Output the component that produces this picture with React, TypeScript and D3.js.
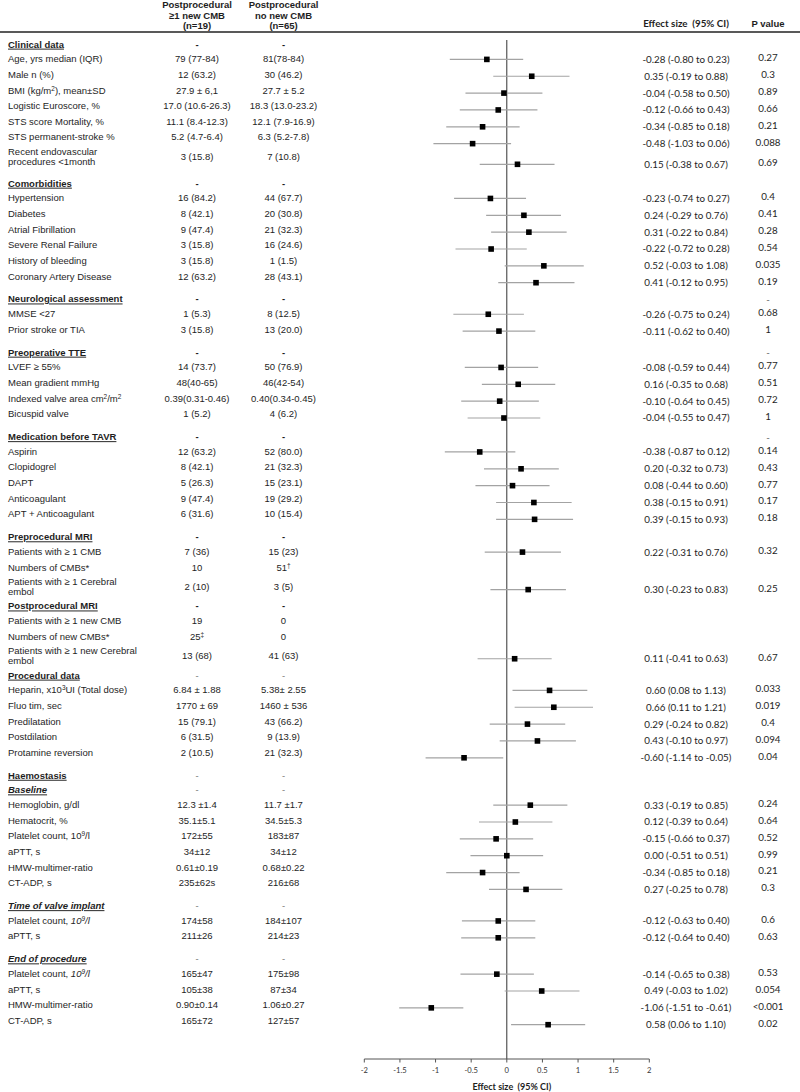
import * as d3 from 'd3';

// sections of the table, in order
const SECTIONS = [
  'Clinical data',
  'Comorbidities',
  'Neurological assessment',
  'Preoperative TTE',
  'Medication before TAVR',
  'Preprocedural MRI',
  'Postprocedural MRI',
  'Procedural data',
  'Haemostasis',
  'Baseline',
  'Time of valve implant',
  'End of procedure',
];
const SECTION_SIZES = [7, 6, 2, 4, 5, 3, 3, 5, 0, 6, 2, 4];
const SECTION_P = ['', '', '-', '-', '-', '', '', '', '', '', '', ''];

// ^x = superscript char, ~ toggles italic, \n = second line
const LABELS = [
  'Age, yrs median (IQR)',
  'Male n (%)',
  'BMI (kg/m^2), mean±SD',
  'Logistic Euroscore, %',
  'STS score Mortality, %',
  'STS permanent-stroke %',
  'Recent endovascular\nprocedures <1month',
  'Hypertension',
  'Diabetes',
  'Atrial Fibrillation',
  'Severe Renal Failure',
  'History of bleeding',
  'Coronary Artery Disease',
  'MMSE <27',
  'Prior stroke or TIA',
  'LVEF ≥ 55%',
  'Mean gradient mmHg',
  'Indexed valve area cm^2/m^2',
  'Bicuspid valve',
  'Aspirin',
  'Clopidogrel',
  'DAPT',
  'Anticoagulant',
  'APT + Anticoagulant',
  'Patients with ≥ 1 CMB',
  'Numbers of CMBs*',
  'Patients with ≥ 1 Cerebral\nembol',
  'Patients with ≥ 1 new CMB',
  'Numbers of new CMBs*',
  'Patients with ≥ 1 new Cerebral\nembol',
  'Heparin, x10^3UI (Total dose)',
  'Fluo tim, sec',
  'Predilatation',
  'Postdilation',
  'Protamine reversion',
  'Hemoglobin, g/dl',
  'Hematocrit, %',
  'Platelet count, 10^9/l',
  'aPTT, s',
  'HMW-multimer-ratio',
  'CT-ADP, s',
  'Platelet count, ~10^9/l~',
  'aPTT, s',
  'Platelet count, ~10^9/l~',
  'aPTT, s',
  'HMW-multimer-ratio',
  'CT-ADP, s',
];

const CMB = [
  '79 (77-84)', '12 (63.2)', '27.9 ± 6,1', '17.0 (10.6-26.3)', '11.1 (8.4-12.3)', '5.2 (4.7-6.4)', '3 (15.8)',
  '16 (84.2)', '8 (42.1)', '9 (47.4)', '3 (15.8)', '3 (15.8)', '12 (63.2)',
  '1 (5.3)', '3 (15.8)',
  '14 (73.7)', '48(40-65)', '0.39(0.31-0.46)', '1 (5.2)',
  '12 (63.2)', '8 (42.1)', '5 (26.3)', '9 (47.4)', '6 (31.6)',
  '7 (36)', '10', '2 (10)',
  '19', '25^‡', '13 (68)',
  '6.84 ± 1.88', '1770 ± 69', '15 (79.1)', '6 (31.5)', '2 (10.5)',
  '12.3 ±1.4', '35.1±5.1', '172±55', '34±12', '0.61±0.19', '235±62s',
  '174±58', '211±26',
  '165±47', '105±38', '0.90±0.14', '165±72',
];

const NO_CMB = [
  '81(78-84)', '30 (46.2)', '27.7 ± 5.2', '18.3 (13.0-23.2)', '12.1 (7.9-16.9)', '6.3 (5.2-7.8)', '7 (10.8)',
  '44 (67.7)', '20 (30.8)', '21 (32.3)', '16 (24.6)', '1 (1.5)', '28 (43.1)',
  '8 (12.5)', '13 (20.0)',
  '50 (76.9)', '46(42-54)', '0.40(0.34-0.45)', '4 (6.2)',
  '52 (80.0)', '21 (32.3)', '15 (23.1)', '19 (29.2)', '10 (15.4)',
  '15 (23)', '51^†', '3 (5)',
  '0', '0', '41 (63)',
  '5.38± 2.55', '1460 ± 536', '43 (66.2)', '9 (13.9)', '21 (32.3)',
  '11.7 ±1.7', '34.5±5.3', '183±87', '34±12', '0.68±0.22', '216±68',
  '184±107', '214±23',
  '175±98', '87±34', '1.06±0.27', '127±57',
];

const EST: (number | null)[] = [
  -0.28, 0.35, -0.04, -0.12, -0.34, -0.48, 0.15,
  -0.23, 0.24, 0.31, -0.22, 0.52, 0.41,
  -0.26, -0.11,
  -0.08, 0.16, -0.10, -0.04,
  -0.38, 0.20, 0.08, 0.38, 0.39,
  0.22, null, 0.30,
  null, null, 0.11,
  0.60, 0.66, 0.29, 0.43, -0.60,
  0.33, 0.12, -0.15, 0.00, -0.34, 0.27,
  -0.12, -0.12,
  -0.14, 0.49, -1.06, 0.58,
];
const CI_LO: (number | null)[] = [
  -0.80, -0.19, -0.58, -0.66, -0.85, -1.03, -0.38,
  -0.74, -0.29, -0.22, -0.72, -0.03, -0.12,
  -0.75, -0.62,
  -0.59, -0.35, -0.64, -0.55,
  -0.87, -0.32, -0.44, -0.15, -0.15,
  -0.31, null, -0.23,
  null, null, -0.41,
  0.08, 0.11, -0.24, -0.10, -1.14,
  -0.19, -0.39, -0.66, -0.51, -0.85, -0.25,
  -0.63, -0.64,
  -0.65, -0.03, -1.51, 0.06,
];
const CI_HI: (number | null)[] = [
  0.23, 0.88, 0.50, 0.43, 0.18, 0.06, 0.67,
  0.27, 0.76, 0.84, 0.28, 1.08, 0.95,
  0.24, 0.40,
  0.44, 0.68, 0.45, 0.47,
  0.12, 0.73, 0.60, 0.91, 0.93,
  0.76, null, 0.83,
  null, null, 0.63,
  1.13, 1.21, 0.82, 0.97, -0.05,
  0.85, 0.64, 0.37, 0.51, 0.18, 0.78,
  0.40, 0.40,
  0.38, 1.02, -0.61, 1.10,
];
const P_VALUES = [
  '0.27', '0.3', '0.89', '0.66', '0.21', '0.088', '0.69',
  '0.4', '0.41', '0.28', '0.54', '0.035', '0.19',
  '0.68', '1',
  '0.77', '0.51', '0.72', '1',
  '0.14', '0.43', '0.77', '0.17', '0.18',
  '0.32', '', '0.25',
  '', '', '0.67',
  '0.033', '0.019', '0.4', '0.094', '0.04',
  '0.24', '0.64', '0.52', '0.99', '0.21', '0.3',
  '0.6', '0.63',
  '0.53', '0.054', '<0.001', '0.02',
];

const AXIS_TICKS = [-2, -1.5, -1, -0.5, 0, 0.5, 1, 1.5, 2];

// layout
const W = 800;
const H = 1092;
const SUB_SECTION = [false, false, false, false, false, false, false, false, false, true, true, true];
const GAP_BEFORE = [false, true, true, true, true, true, false, false, true, false, true, true];
const BOLD_DASH = [true, true, true, true, true, true, true, false, false, false, false, false];
const STEP = 15.65;
const HEAD_STEP = 14.6;
const TWO = 3.8;
const GAP = 7.3;
const COL1 = 197;
const COL2 = 283.5;
const EFF_X = 686;
const P_X = 768;
const AXIS_Y = 1059;
const TOP_LINE = 40;

const SANS = "'Liberation Sans', Arial, sans-serif";
const CAL = "Lato, 'Open Sans', sans-serif";
const INK = '#1e1e1e';
const FS = 9.5;

type Head = { kind: 'head'; s: number; y: number };
type Row = { kind: 'row'; s: number; i: number; k: number; y: number };

function buildLayout() {
  const items: (Head | Row)[] = [];
  let y = 44.3;
  let prevHead = false;
  let prevTwo = false;
  let first = true;
  let i = 0;
  SECTIONS.forEach((_, s) => {
    if (!first) {
      y += (prevHead ? HEAD_STEP : STEP) + (prevTwo ? TWO : 0) + (GAP_BEFORE[s] ? GAP : 0);
    }
    first = false;
    items.push({ kind: 'head', s, y });
    prevHead = true;
    prevTwo = false;
    for (let k = 0; k < SECTION_SIZES[s]; k++) {
      const two = LABELS[i].includes('\n');
      y += (prevHead ? HEAD_STEP : STEP) + (prevTwo ? TWO : 0) + (two ? TWO : 0);
      items.push({ kind: 'row', s, i, k, y });
      prevHead = false;
      prevTwo = two;
      i++;
    }
  });
  return items;
}

function rich(str: string) {
  const out: JSX.Element[] = [];
  let italic = false;
  let buf = '';
  let key = 0;
  const flush = () => {
    if (buf) out.push(<tspan key={key++} fontStyle={italic ? 'italic' : undefined}>{buf}</tspan>);
    buf = '';
  };
  for (let c = 0; c < str.length; c++) {
    const ch = str[c];
    if (ch === '~') {
      flush();
      italic = !italic;
    } else if (ch === '^' && c + 1 < str.length) {
      flush();
      out.push(
        <tspan key={key++} baselineShift="super" fontSize="68%" fontStyle={italic ? 'italic' : undefined}>
          {str[c + 1]}
        </tspan>
      );
      c++;
    } else {
      buf += ch;
    }
  }
  flush();
  return out;
}

const fmt = (v: number) => v.toFixed(2);

function ForestTable() {
  const x = d3.scaleLinear([-2, 2], [364.3, 649.3]);
  const items = buildLayout();

  return (
    <svg width={W} height={H} style={{ position: 'absolute', left: 0, top: 0, background: '#fff' }}>
      {/* column headers */}
      <g fontFamily={SANS} fontSize={FS} fontWeight="bold" fill={INK} textAnchor="middle">
        {['Postprocedural', '≥1 new CMB', '(n=19)'].map((t, j) => (
          <text key={'a' + j} x={COL1} y={5 + j * 10.5} dy="0.35em">{t}</text>
        ))}
        {['Postprocedural', 'no new CMB', '(n=65)'].map((t, j) => (
          <text key={'b' + j} x={COL2} y={5 + j * 10.5} dy="0.35em">{t}</text>
        ))}
        <text x={P_X} y={24} dy="0.35em">P value</text>
      </g>
      <text x={EFF_X} y={24} dy="0.35em" textAnchor="middle" fontFamily={CAL} fontSize={9.8} fontWeight="bold" fill={INK} style={{ whiteSpace: 'pre' }}>
        {'Effect size  (95% CI)'}
      </text>
      <line x1={0} x2={W} y1={32} y2={32} stroke="#222" strokeWidth={1.5} />

      {/* zero line */}
      <line x1={x(0)} x2={x(0)} y1={TOP_LINE} y2={AXIS_Y} stroke="#333" strokeWidth={1} />

      {items.map((it) => {
        if (it.kind === 'head') {
          const sub = SUB_SECTION[it.s];
          return (
            <g key={'h' + it.s}>
              <text
                x={8}
                y={it.y}
                dy="0.35em"
                fontFamily={SANS}
                fontSize={FS}
                fontWeight="bold"
                fontStyle={sub ? 'italic' : undefined}
                textDecoration="underline"
                fill={INK}
              >
                {SECTIONS[it.s]}
              </text>
              {[COL1, COL2].map((cx) => (
                <text
                  key={cx}
                  x={cx}
                  y={it.y}
                  dy="0.35em"
                  textAnchor="middle"
                  fontFamily={SANS}
                  fontSize={FS}
                  fontWeight={BOLD_DASH[it.s] ? 'bold' : 'normal'}
                  fill={BOLD_DASH[it.s] ? INK : '#777'}
                >
                  -
                </text>
              ))}
              {SECTION_P[it.s] && (
                <text x={P_X} y={it.y + 0.5} dy="0.35em" textAnchor="middle" fontFamily={CAL} fontSize={9.8} fill="#666">
                  {SECTION_P[it.s]}
                </text>
              )}
            </g>
          );
        }
        const i = it.i;
        const lines = LABELS[i].split('\n');
        const fy = it.y + 1.2 * it.k + 0.5;
        const est = EST[i];
        const lo = CI_LO[i];
        const hi = CI_HI[i];
        return (
          <g key={'r' + i}>
            <g fontFamily={SANS} fontSize={FS} fill={INK}>
              {lines.map((ln, j) => (
                <text key={j} x={8} y={it.y + (lines.length > 1 ? (j === 0 ? -5 : 5) : 0)} dy="0.35em">
                  {rich(ln)}
                </text>
              ))}
              <text x={COL1} y={it.y} dy="0.35em" textAnchor="middle">{rich(CMB[i])}</text>
              <text x={COL2} y={it.y} dy="0.35em" textAnchor="middle">{rich(NO_CMB[i])}</text>
            </g>
            {est !== null && lo !== null && hi !== null && (
              <g>
                <line x1={x(lo)} x2={x(hi)} y1={fy} y2={fy} stroke="#a3a3a3" strokeWidth={1.2} />
                <rect x={x(est) - 2.8} y={fy - 2.8} width={5.6} height={5.6} fill="#000" />
                <text x={EFF_X} y={fy} dy="0.35em" textAnchor="middle" fontFamily={CAL} fontSize={9.8} fill={INK}>
                  {`${fmt(est)} (${fmt(lo)} to ${fmt(hi)})`}
                </text>
              </g>
            )}
            {P_VALUES[i] && (
              <text x={P_X} y={fy - 1.5} dy="0.35em" textAnchor="middle" fontFamily={CAL} fontSize={9.8} fill={INK}>
                {P_VALUES[i]}
              </text>
            )}
          </g>
        );
      })}

      {/* x axis */}
      <g>
        <line x1={x(-2)} x2={x(2)} y1={AXIS_Y} y2={AXIS_Y} stroke="#555" strokeWidth={1} />
        {AXIS_TICKS.map((t) => (
          <g key={t}>
            <line x1={x(t)} x2={x(t)} y1={AXIS_Y} y2={AXIS_Y + 3.5} stroke="#555" strokeWidth={1} />
            <text x={x(t)} y={AXIS_Y + 11.5} dy="0.35em" textAnchor="middle" fontFamily={CAL} fontSize={7.6} fill="#333">
              {String(t)}
            </text>
          </g>
        ))}
        <text x={x(0) + 5} y={1087} dy="0.35em" textAnchor="middle" fontFamily={CAL} fontSize={9} fontWeight="bold" fill={INK} style={{ whiteSpace: 'pre' }}>
          {'Effect size  (95% CI)'}
        </text>
      </g>
    </svg>
  );
}

export default function App() {
  return <ForestTable />;
}
